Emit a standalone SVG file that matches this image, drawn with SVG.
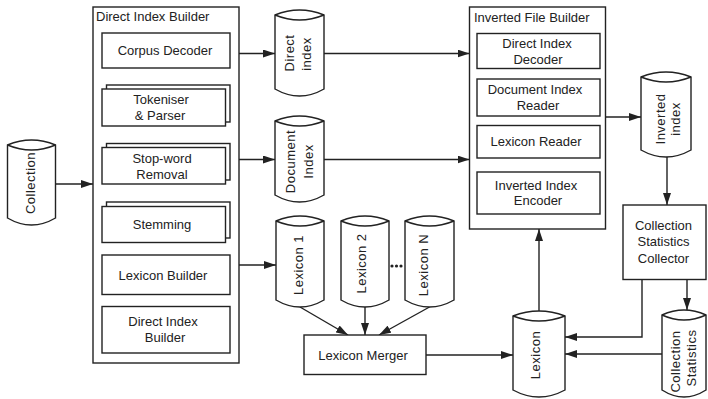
<svg xmlns="http://www.w3.org/2000/svg" width="708" height="399" viewBox="0 0 708 399">
<style>
.box{fill:#fff;stroke:#222;stroke-width:1.4}
.cyl{fill:#fff;stroke:#222;stroke-width:1.4}
.lens{fill:none;stroke:#222;stroke-width:1.4}
.t{font-family:"Liberation Sans",Arial,sans-serif;font-size:13px;fill:#222;text-anchor:middle}
.tl{font-family:"Liberation Sans",Arial,sans-serif;font-size:13px;fill:#222}
.tc{font-family:"Liberation Sans",Arial,sans-serif;font-size:13px;fill:#222;text-anchor:middle;letter-spacing:0.5px}
.c{fill:none;stroke:#222;stroke-width:1.4}
</style>
<defs>
<marker id="ah" viewBox="0 0 12 8" refX="12" refY="4" markerWidth="12" markerHeight="8" markerUnits="userSpaceOnUse" orient="auto">
<path d="M0,0 L12,4 L0,8 Z" fill="#222"/>
</marker>
</defs>
<rect width="708" height="399" fill="#fff"/>

<g id="connectors">
<line class="c" x1="55.5" y1="184" x2="93" y2="184" marker-end="url(#ah)"/>
<line class="c" x1="239" y1="53.5" x2="275" y2="53.5" marker-end="url(#ah)"/>
<line class="c" x1="324" y1="53.5" x2="469.5" y2="53.5" marker-end="url(#ah)"/>
<line class="c" x1="239" y1="159.5" x2="275" y2="159.5" marker-end="url(#ah)"/>
<line class="c" x1="324" y1="159.5" x2="469.5" y2="159.5" marker-end="url(#ah)"/>
<line class="c" x1="239" y1="265" x2="276" y2="265" marker-end="url(#ah)"/>
<line class="c" x1="300" y1="307" x2="348" y2="335" marker-end="url(#ah)"/>
<line class="c" x1="365" y1="307" x2="365" y2="335" marker-end="url(#ah)"/>
<line class="c" x1="429.5" y1="307" x2="379" y2="335" marker-end="url(#ah)"/>
<line class="c" x1="426" y1="355" x2="513" y2="355" marker-end="url(#ah)"/>
<line class="c" x1="539" y1="311" x2="539" y2="229" marker-end="url(#ah)"/>
<line class="c" x1="606" y1="117" x2="641" y2="117" marker-end="url(#ah)"/>
<line class="c" x1="667" y1="157" x2="667" y2="205" marker-end="url(#ah)"/>
<line class="c" x1="687" y1="279" x2="687" y2="310" marker-end="url(#ah)"/>
<polyline class="c" points="642,279 642,337 565,337" marker-end="url(#ah)"/>
<line class="c" x1="662" y1="354" x2="565" y2="354" marker-end="url(#ah)"/>
</g>

<g id="collection">
<path class="cyl" d="M7.5,145 Q31.5,135 55.5,145 L55.5,218 Q31.5,232 7.5,218 Z"/>
<path class="lens" d="M7.5,145 Q31.5,155 55.5,145"/>
<text class="tc" transform="translate(35,183) rotate(-90)">Collection</text>
</g>

<g id="direct-index-builder">
<rect class="box" x="93" y="7" width="146" height="356"/>
<text class="tl" x="96" y="21">Direct Index Builder</text>
</g>
<g id="corpus-decoder">
<rect class="box" x="102" y="33" width="128" height="35"/>
<text class="t" x="165" y="55">Corpus Decoder</text>
</g>
<g id="tokeniser">
<rect class="box" x="106.5" y="85" width="123.5" height="37"/>
<rect class="box" x="102" y="89" width="123.5" height="37"/>
<text class="t" x="161" y="104">Tokeniser</text>
<text class="t" x="160" y="120">&amp; Parser</text>
</g>
<g id="stopword">
<rect class="box" x="106.5" y="143.5" width="123.5" height="36.5"/>
<rect class="box" x="102" y="147.5" width="123.5" height="36.5"/>
<text class="t" x="162" y="162.5">Stop-word</text>
<text class="t" x="162" y="178.5">Removal</text>
</g>
<g id="stemming">
<rect class="box" x="106.5" y="202" width="123.5" height="36"/>
<rect class="box" x="102" y="206.5" width="123.5" height="36"/>
<text class="t" x="162" y="228.5">Stemming</text>
</g>
<g id="lexicon-builder">
<rect class="box" x="102" y="255" width="128" height="39.5"/>
<text class="t" x="163" y="279.5">Lexicon Builder</text>
</g>
<g id="direct-index-builder-inner">
<rect class="box" x="102" y="306.5" width="128" height="46.5"/>
<text class="t" x="163" y="326">Direct Index</text>
<text class="t" x="165" y="342">Builder</text>
</g>

<g id="direct-index">
<path class="cyl" d="M275,15 Q299.5,5 324,15 L324,89 Q299.5,103 275,89 Z"/>
<path class="lens" d="M275,15 Q299.5,25 324,15"/>
<text class="tc" transform="translate(293.5,53) rotate(-90)">Direct</text>
<text class="tc" transform="translate(311,54) rotate(-90)">index</text>
</g>
<g id="document-index">
<path class="cyl" d="M275,121 Q299.5,111 324,121 L324,195 Q299.5,209 275,195 Z"/>
<path class="lens" d="M275,121 Q299.5,131 324,121"/>
<text class="tc" transform="translate(294.5,161.5) rotate(-90)">Document</text>
<text class="tc" transform="translate(312.5,161.5) rotate(-90)">Index</text>
</g>
<g id="lexicon-1">
<path class="cyl" d="M276,221 Q300,211 324,221 L324,300 Q300,314 276,300 Z"/>
<path class="lens" d="M276,221 Q300,231 324,221"/>
<text class="tc" transform="translate(303,265) rotate(-90)">Lexicon 1</text>
</g>
<g id="lexicon-2">
<path class="cyl" d="M341,221 Q365,211 389,221 L389,300 Q365,314 341,300 Z"/>
<path class="lens" d="M341,221 Q365,231 389,221"/>
<text class="tc" transform="translate(366,263.5) rotate(-90)">Lexicon 2</text>
</g>
<g id="dots">
<circle cx="392" cy="266" r="1.6" fill="#222"/>
<circle cx="396.5" cy="266" r="1.6" fill="#222"/>
<circle cx="401" cy="266" r="1.6" fill="#222"/>
</g>
<g id="lexicon-n">
<path class="cyl" d="M405,221 Q429.5,211 454,221 L454,300 Q429.5,314 405,300 Z"/>
<path class="lens" d="M405,221 Q429.5,231 454,221"/>
<text class="tc" transform="translate(428,265) rotate(-90)">Lexicon N</text>
</g>
<g id="lexicon-merger">
<rect class="box" x="304" y="335" width="122" height="39.5"/>
<text class="t" x="363" y="359.5">Lexicon Merger</text>
</g>

<g id="inverted-file-builder">
<rect class="box" x="469.5" y="7" width="136" height="222"/>
<text class="tl" x="474" y="21.5">Inverted File Builder</text>
</g>
<g id="direct-index-decoder">
<rect class="box" x="477" y="33.5" width="123" height="35"/>
<text class="t" x="537" y="47.5">Direct Index</text>
<text class="t" x="538" y="63.5">Decoder</text>
</g>
<g id="document-index-reader">
<rect class="box" x="477" y="79" width="123" height="37"/>
<text class="t" x="535" y="94">Document Index</text>
<text class="t" x="538" y="109.5">Reader</text>
</g>
<g id="lexicon-reader">
<rect class="box" x="477" y="125.5" width="123" height="32.5"/>
<text class="t" x="536" y="146">Lexicon Reader</text>
</g>
<g id="inverted-index-encoder">
<rect class="box" x="477" y="172" width="123" height="42"/>
<text class="t" x="536" y="190">Inverted Index</text>
<text class="t" x="538" y="204.5">Encoder</text>
</g>

<g id="inverted-index">
<path class="cyl" d="M641,77 Q666,67 691,77 L691,150 Q666,164 641,150 Z"/>
<path class="lens" d="M641,77 Q666,87 691,77"/>
<text class="tc" transform="translate(665,119) rotate(-90)">Inverted</text>
<text class="tc" transform="translate(679.5,119) rotate(-90)">index</text>
</g>
<g id="collection-statistics-collector">
<rect class="box" x="623" y="205" width="83" height="74.5"/>
<text class="t" x="663.5" y="229.5">Collection</text>
<text class="t" x="663.5" y="246">Statistics</text>
<text class="t" x="663.5" y="262.5">Collector</text>
</g>
<g id="collection-statistics">
<path class="cyl" d="M662,315 Q684,305 706,315 L706,390 Q684,404 662,390 Z"/>
<path class="lens" d="M662,315 Q684,325 706,315"/>
<text class="tc" transform="translate(680,361.5) rotate(-90)">Collection</text>
<text class="tc" transform="translate(695.5,358) rotate(-90)">Statistics</text>
</g>
<g id="lexicon">
<path class="cyl" d="M513,316 Q539,306 565,316 L565,390 Q539,404 513,390 Z"/>
<path class="lens" d="M513,316 Q539,326 565,316"/>
<text class="tc" transform="translate(540,355) rotate(-90)">Lexicon</text>
</g>
</svg>
